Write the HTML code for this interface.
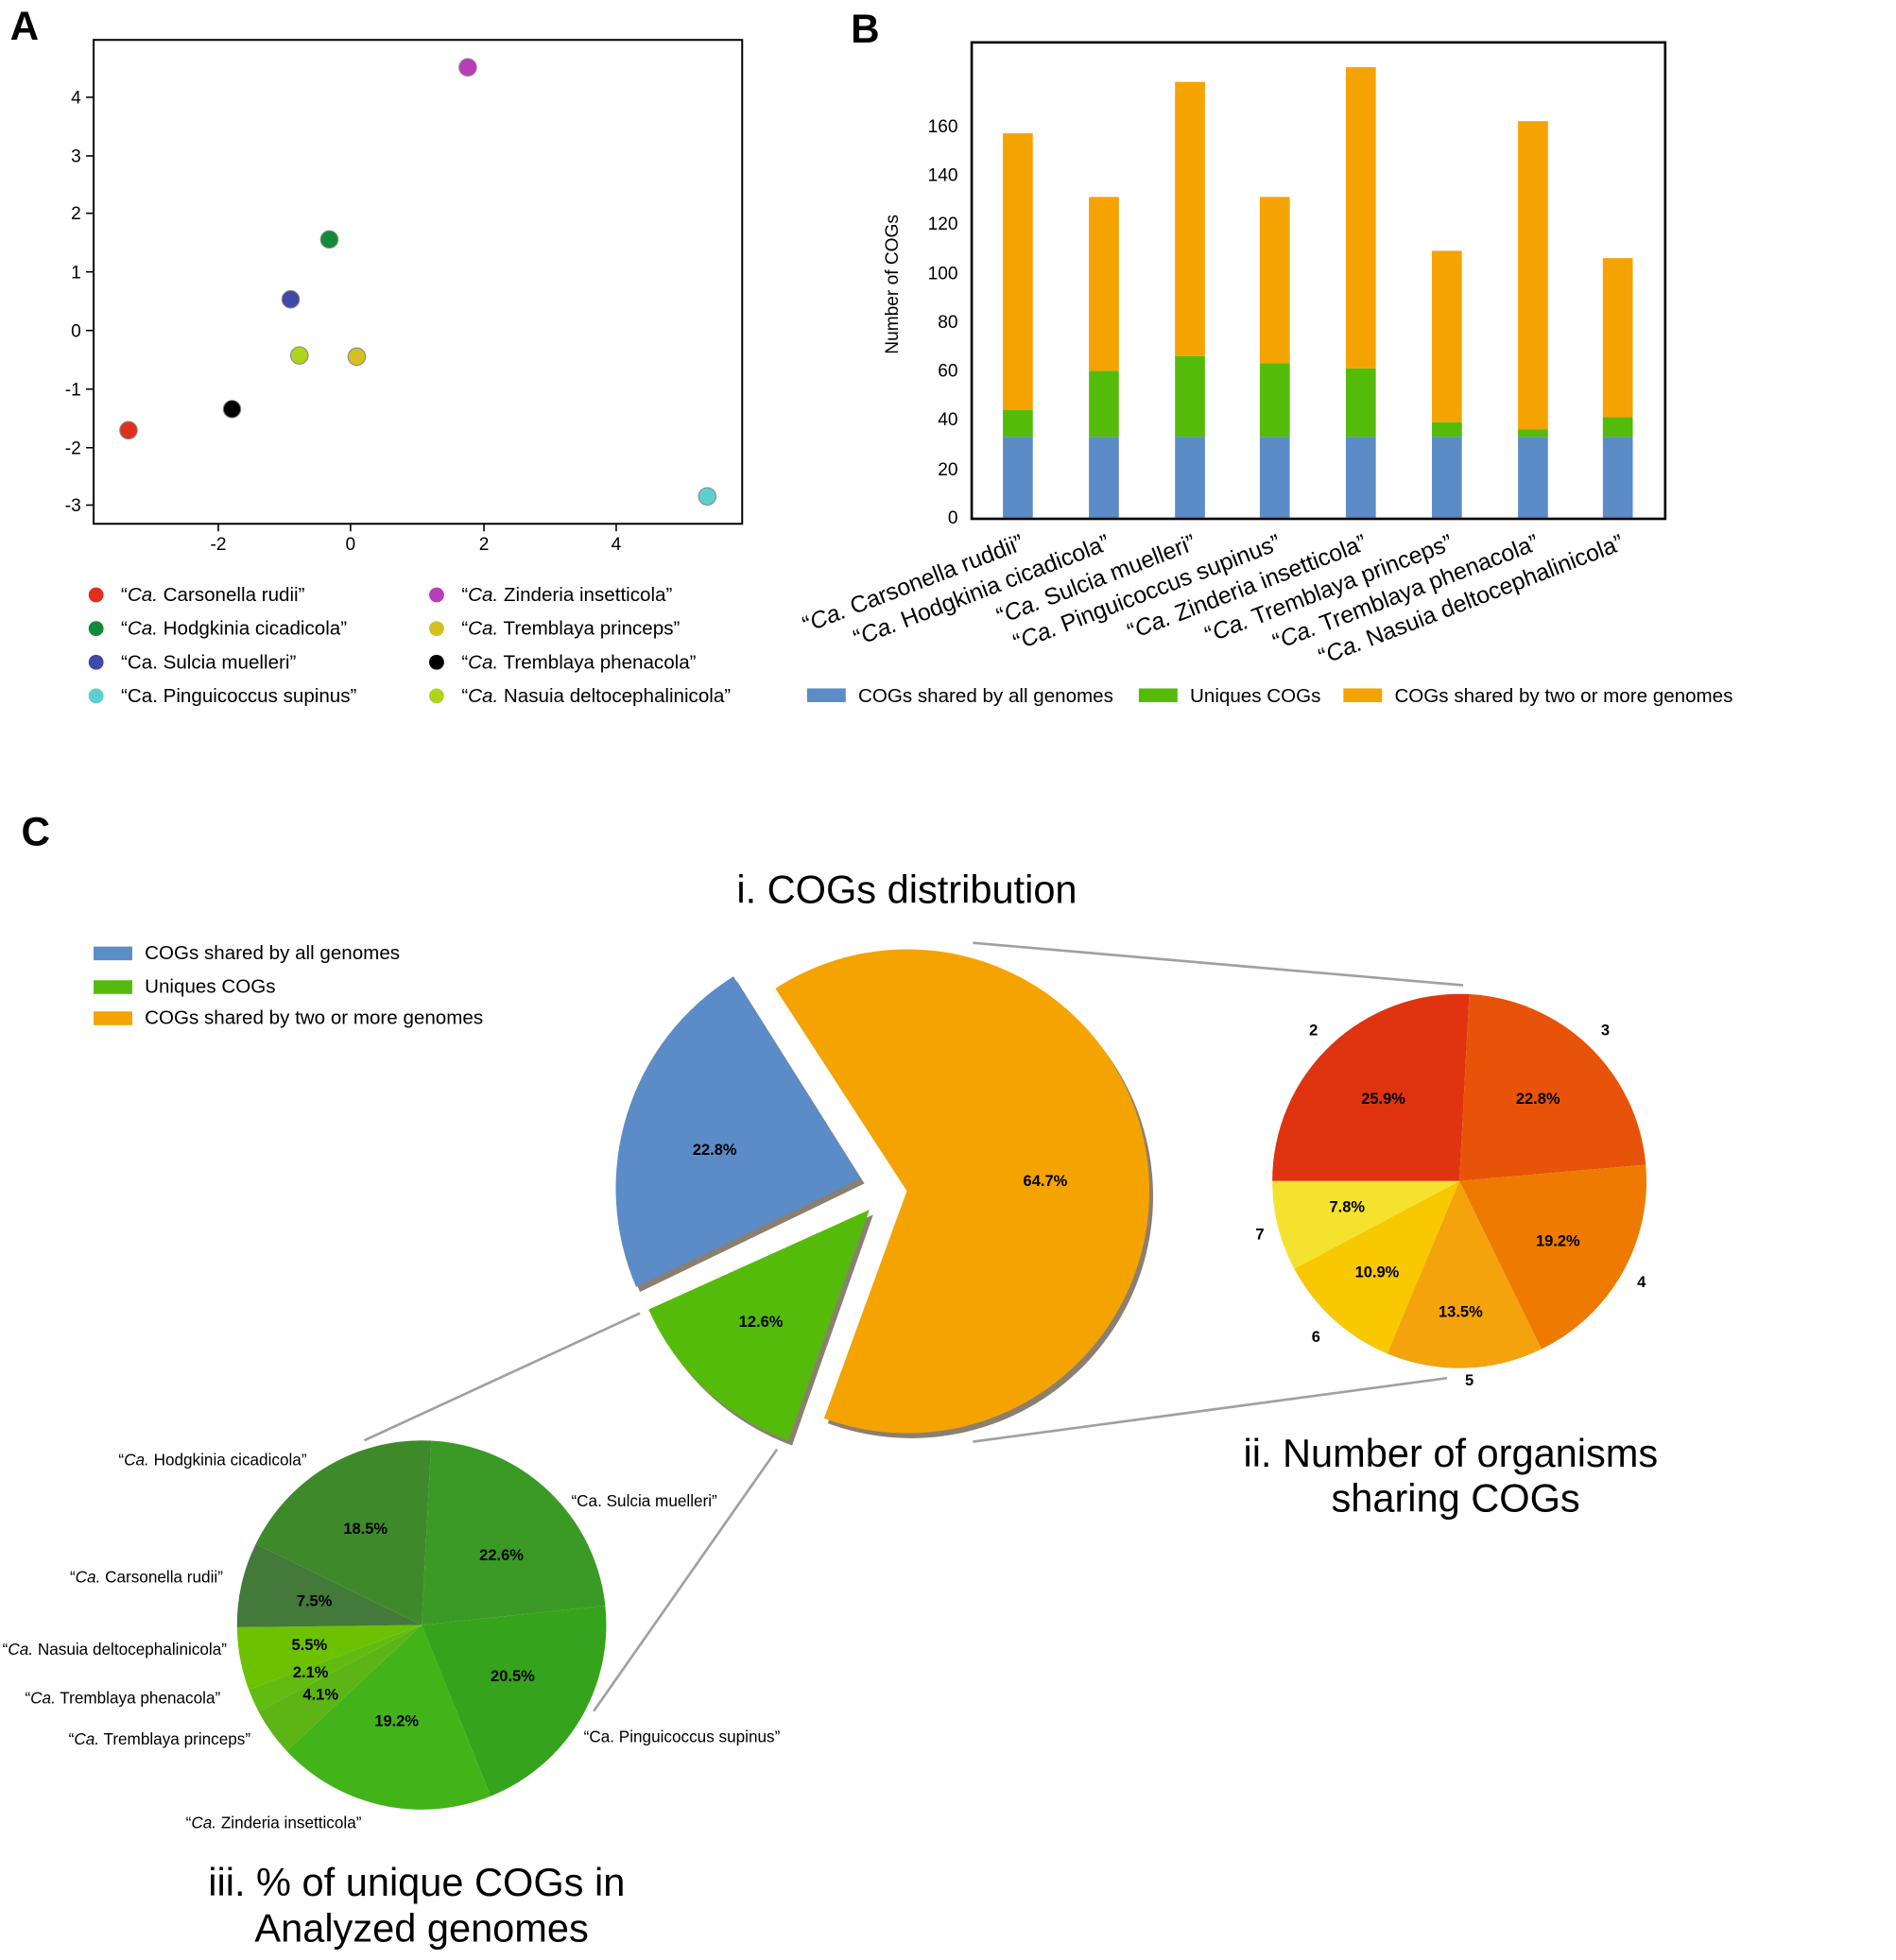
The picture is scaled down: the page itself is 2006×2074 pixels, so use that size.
<!DOCTYPE html>
<html><head><meta charset="utf-8"><style>html,body{margin:0;padding:0;background:#fff}svg{display:block}</style></head>
<body>
<svg width="2006" height="2074" viewBox="0 0 1520 1571.6" xmlns="http://www.w3.org/2000/svg" font-family="Liberation Sans, Arial, sans-serif">
<rect width="1520" height="1572" fill="#fff"/>
<text x="8" y="32" font-size="32" font-weight="bold">A</text>
<text x="682" y="34" font-size="32" font-weight="bold">B</text>
<text x="17" y="678" font-size="32" font-weight="bold">C</text>

<rect x="75" y="32" width="520" height="388" fill="none" stroke="#000" stroke-width="1.5"/>
<g stroke="#000" stroke-width="1.2">
<line x1="175" y1="420" x2="175" y2="426"/><line x1="281" y1="420" x2="281" y2="426"/><line x1="388" y1="420" x2="388" y2="426"/><line x1="494" y1="420" x2="494" y2="426"/>
<line x1="69" y1="78" x2="75" y2="78"/><line x1="69" y1="125" x2="75" y2="125"/><line x1="69" y1="171" x2="75" y2="171"/><line x1="69" y1="218" x2="75" y2="218"/><line x1="69" y1="265" x2="75" y2="265"/><line x1="69" y1="312" x2="75" y2="312"/><line x1="69" y1="359" x2="75" y2="359"/><line x1="69" y1="405" x2="75" y2="405"/>
</g>
<g font-size="14.5" text-anchor="middle">
<text x="175" y="441">-2</text><text x="281" y="441">0</text><text x="388" y="441">2</text><text x="494" y="441">4</text>
</g>
<g font-size="14.5" text-anchor="end">
<text x="65" y="83">4</text><text x="65" y="130">3</text><text x="65" y="176">2</text><text x="65" y="223">1</text><text x="65" y="270">0</text><text x="65" y="317">-1</text><text x="65" y="364">-2</text><text x="65" y="410">-3</text>
</g>
<g stroke="#888" stroke-width="0.8">
<circle cx="103" cy="345" r="7" fill="#e0301c"/>
<circle cx="264" cy="192" r="7" fill="#138a3a"/>
<circle cx="233" cy="240" r="7" fill="#4048a8"/>
<circle cx="567" cy="398" r="7" fill="#5ccfcf"/>
<circle cx="375" cy="54" r="7" fill="#b83db8"/>
<circle cx="286" cy="286" r="7" fill="#d4c020"/>
<circle cx="186" cy="328" r="7" fill="#000"/>
<circle cx="240" cy="285" r="7" fill="#b0d41c"/>
</g>
<g font-size="15.6">
<circle cx="77" cy="477" r="6" fill="#e0301c"/><text x="97" y="482">“<tspan font-style="italic">Ca.</tspan> Carsonella rudii”</text>
<circle cx="77" cy="504" r="6" fill="#138a3a"/><text x="97" y="509">“<tspan font-style="italic">Ca.</tspan> Hodgkinia cicadicola”</text>
<circle cx="77" cy="531" r="6" fill="#4048a8"/><text x="97" y="536">“Ca. Sulcia muelleri”</text>
<circle cx="77" cy="558" r="6" fill="#5ccfcf"/><text x="97" y="563">“Ca. Pinguicoccus supinus”</text>
<circle cx="350" cy="477" r="6" fill="#b83db8"/><text x="370" y="482">“<tspan font-style="italic">Ca.</tspan> Zinderia insetticola”</text>
<circle cx="350" cy="504" r="6" fill="#d4c020"/><text x="370" y="509">“<tspan font-style="italic">Ca.</tspan> Tremblaya princeps”</text>
<circle cx="350" cy="531" r="6" fill="#000"/><text x="370" y="536">“<tspan font-style="italic">Ca.</tspan> Tremblaya phenacola”</text>
<circle cx="350" cy="558" r="6" fill="#b0d41c"/><text x="370" y="563">“<tspan font-style="italic">Ca.</tspan> Nasuia deltocephalinicola”</text>
</g>

<g>
<g>
<rect x="804" y="350.2" width="24" height="64.8" fill="#5b8cc8"/><rect x="804" y="328.6" width="24" height="21.6" fill="#55bb0a"/><rect x="804" y="106.9" width="24" height="221.7" fill="#f5a300"/>
<rect x="873" y="350.2" width="24" height="64.8" fill="#5b8cc8"/><rect x="873" y="297.3" width="24" height="52.9" fill="#55bb0a"/><rect x="873" y="157.9" width="24" height="139.4" fill="#f5a300"/>
<rect x="942" y="350.2" width="24" height="64.8" fill="#5b8cc8"/><rect x="942" y="285.5" width="24" height="64.7" fill="#55bb0a"/><rect x="942" y="65.7" width="24" height="219.8" fill="#f5a300"/>
<rect x="1010" y="350.2" width="24" height="64.8" fill="#5b8cc8"/><rect x="1010" y="291.4" width="24" height="58.8" fill="#55bb0a"/><rect x="1010" y="157.9" width="24" height="133.5" fill="#f5a300"/>
<rect x="1079" y="350.2" width="24" height="64.8" fill="#5b8cc8"/><rect x="1079" y="295.3" width="24" height="54.9" fill="#55bb0a"/><rect x="1079" y="53.9" width="24" height="241.4" fill="#f5a300"/>
<rect x="1148" y="350.2" width="24" height="64.8" fill="#5b8cc8"/><rect x="1148" y="338.5" width="24" height="11.7" fill="#55bb0a"/><rect x="1148" y="201.1" width="24" height="137.4" fill="#f5a300"/>
<rect x="1217" y="350.2" width="24" height="64.8" fill="#5b8cc8"/><rect x="1217" y="344.4" width="24" height="5.8" fill="#55bb0a"/><rect x="1217" y="97.1" width="24" height="247.3" fill="#f5a300"/>
<rect x="1285" y="350.2" width="24" height="64.8" fill="#5b8cc8"/><rect x="1285" y="334.5" width="24" height="15.7" fill="#55bb0a"/><rect x="1285" y="207" width="24" height="127.5" fill="#f5a300"/>
</g>
<rect x="779" y="34" width="556" height="382" fill="none" stroke="#000" stroke-width="2"/>
<g font-size="14.5" text-anchor="end">
<text x="768" y="420">0</text><text x="768" y="381">20</text><text x="768" y="341">40</text><text x="768" y="302">60</text><text x="768" y="263">80</text><text x="768" y="224">100</text><text x="768" y="184">120</text><text x="768" y="145">140</text><text x="768" y="106">160</text>
</g>
<text transform="translate(720,228) rotate(-90)" font-size="14.5" text-anchor="middle">Number of COGs</text>
<g font-size="18.8" text-anchor="end">
<text transform="translate(822,440) rotate(-21)">“<tspan font-style="italic">Ca.</tspan> Carsonella ruddii”</text>
<text transform="translate(891,440) rotate(-21)">“<tspan font-style="italic">Ca.</tspan> Hodgkinia cicadicola”</text>
<text transform="translate(960,440) rotate(-21)">“<tspan font-style="italic">Ca.</tspan> Sulcia muelleri”</text>
<text transform="translate(1028,440) rotate(-21)">“<tspan font-style="italic">Ca.</tspan> Pinguicoccus supinus”</text>
<text transform="translate(1097,440) rotate(-21)">“<tspan font-style="italic">Ca.</tspan> Zinderia insetticola”</text>
<text transform="translate(1166,440) rotate(-21)">“<tspan font-style="italic">Ca.</tspan> Tremblaya princeps”</text>
<text transform="translate(1235,440) rotate(-21)">“<tspan font-style="italic">Ca.</tspan> Tremblaya phenacola”</text>
<text transform="translate(1303,440) rotate(-21)">“<tspan font-style="italic">Ca.</tspan> Nasuia deltocephalinicola”</text>
</g>
<g font-size="15.6">
<rect x="647" y="552" width="31" height="11" fill="#5b8cc8"/><text x="688" y="563">COGs shared by all genomes</text>
<rect x="913" y="552" width="31" height="11" fill="#55bb0a"/><text x="954" y="563">Uniques COGs</text>
<rect x="1077" y="552" width="31" height="11" fill="#f5a300"/><text x="1118" y="563">COGs shared by two or more genomes</text>
</g>
</g>

<text x="727" y="724" font-size="31.5" text-anchor="middle">i. COGs distribution</text>
<g font-size="15.6">
<rect x="75" y="759" width="31" height="11" fill="#5b8cc8"/><text x="116" y="769">COGs shared by all genomes</text>
<rect x="75" y="786" width="31" height="11" fill="#55bb0a"/><text x="116" y="796">Uniques COGs</text>
<rect x="75" y="811" width="31" height="11" fill="#f5a300"/><text x="116" y="821">COGs shared by two or more genomes</text>
</g>
<g stroke="#a0a0a0" stroke-width="2">
<line x1="780" y1="756" x2="1173" y2="790"/>
<line x1="780" y1="1156" x2="1160" y2="1105"/>
<line x1="513" y1="1053" x2="292" y2="1155"/>
<line x1="623" y1="1162" x2="476" y2="1372"/>
</g>
<g fill="#8a7f70" transform="translate(3,4)">
<path d="M727,955 L621.6,792.6 A194,194 0 1 1 660.6,1137.3 Z"/>
<path d="M690,945 L510.0,1032 A200,200 0 0 1 588,783 Z"/>
<path d="M697,970 L632,1155 A196,196 0 0 1 520,1050 Z"/>
</g>
<path d="M727,955 L621.6,792.6 A194,194 0 1 1 660.6,1137.3 Z" fill="#f5a300"/>
<path d="M690,945 L510.0,1032 A200,200 0 0 1 588,783 Z" fill="#5b8cc8"/>
<path d="M697,970 L632,1155 A196,196 0 0 1 520,1050 Z" fill="#55bb0a"/>
<g font-size="12.5" font-weight="bold" text-anchor="middle">
<text x="838" y="951">64.7%</text><text x="573" y="926">22.8%</text><text x="610" y="1064">12.6%</text>
</g>

<g>
<path d="M1170,947 L1020,947 A150,150 0 0 1 1177.9,797.2 Z" fill="#e0330f"/>
<path d="M1170,947 L1177.9,797.2 A150,150 0 0 1 1319.4,933.9 Z" fill="#e8530a"/>
<path d="M1170,947 L1319.4,933.9 A150,150 0 0 1 1235.8,1081.8 Z" fill="#ef7a00"/>
<path d="M1170,947 L1235.8,1081.8 A150,150 0 0 1 1112.1,1085.4 Z" fill="#f5a30c"/>
<path d="M1170,947 L1112.1,1085.4 A150,150 0 0 1 1037.6,1017.4 Z" fill="#f8c800"/>
<path d="M1170,947 L1037.6,1017.4 A150,150 0 0 1 1020,947 Z" fill="#f5e22e"/>
</g>
<g font-size="12.5" font-weight="bold" text-anchor="middle">
<text x="1109" y="885">25.9%</text><text x="1233" y="885">22.8%</text><text x="1249" y="999">19.2%</text><text x="1171" y="1056">13.5%</text><text x="1104" y="1024">10.9%</text><text x="1080" y="972">7.8%</text>
<text x="1053" y="830">2</text><text x="1287" y="830">3</text><text x="1316" y="1032">4</text><text x="1178" y="1111">5</text><text x="1055" y="1076">6</text><text x="1010" y="994">7</text>
</g>
<text x="1163" y="1176" font-size="31.5" text-anchor="middle">ii. Number of organisms</text>
<text x="1167" y="1212" font-size="31.5" text-anchor="middle">sharing COGs</text>

<g>
<path d="M338,1303 L345.7,1155.2 A148,148 0 0 1 485.2,1287.5 Z" fill="#3a9a25"/>
<path d="M338,1303 L485.2,1287.5 A148,148 0 0 1 393.4,1440.2 Z" fill="#35a41c"/>
<path d="M338,1303 L393.4,1440.2 A148,148 0 0 1 229.8,1404.0 Z" fill="#42b41a"/>
<path d="M338,1303 L229.8,1404.0 A148,148 0 0 1 207.3,1372.5 Z" fill="#5cb514"/>
<path d="M338,1303 L207.3,1372.5 A148,148 0 0 1 199.4,1354.8 Z" fill="#62bb10"/>
<path d="M338,1303 L199.4,1354.8 A148,148 0 0 1 190,1304.8 Z" fill="#6cc200"/>
<path d="M338,1303 L190,1304.8 A148,148 0 0 1 205.0,1238.1 Z" fill="#437a3a"/>
<path d="M338,1303 L205.0,1238.1 A148,148 0 0 1 345.7,1155.2 Z" fill="#3e8a2a"/>
</g>
<g font-size="12.5" font-weight="bold" text-anchor="middle">
<text x="293" y="1230">18.5%</text><text x="402" y="1251">22.6%</text><text x="252" y="1288">7.5%</text><text x="411" y="1348">20.5%</text><text x="318" y="1384">19.2%</text><text x="248" y="1323">5.5%</text><text x="249" y="1345">2.1%</text><text x="257" y="1363">4.1%</text>
</g>
<g font-size="13">
<text x="95" y="1175">“<tspan font-style="italic">Ca.</tspan> Hodgkinia cicadicola”</text>
<text x="458" y="1208">“Ca. Sulcia muelleri”</text>
<text x="56" y="1269">“<tspan font-style="italic">Ca.</tspan> Carsonella rudii”</text>
<text x="2" y="1327">“<tspan font-style="italic">Ca.</tspan> Nasuia deltocephalinicola”</text>
<text x="20" y="1366">“<tspan font-style="italic">Ca.</tspan> Tremblaya phenacola”</text>
<text x="55" y="1399">“<tspan font-style="italic">Ca.</tspan> Tremblaya princeps”</text>
<text x="468" y="1397">“Ca. Pinguicoccus supinus”</text>
<text x="149" y="1466">“<tspan font-style="italic">Ca.</tspan> Zinderia insetticola”</text>
</g>
<text x="334" y="1520" font-size="31.5" text-anchor="middle">iii. % of unique COGs in</text>
<text x="338" y="1557" font-size="31.5" text-anchor="middle">Analyzed genomes</text>
</svg>
</body></html>
